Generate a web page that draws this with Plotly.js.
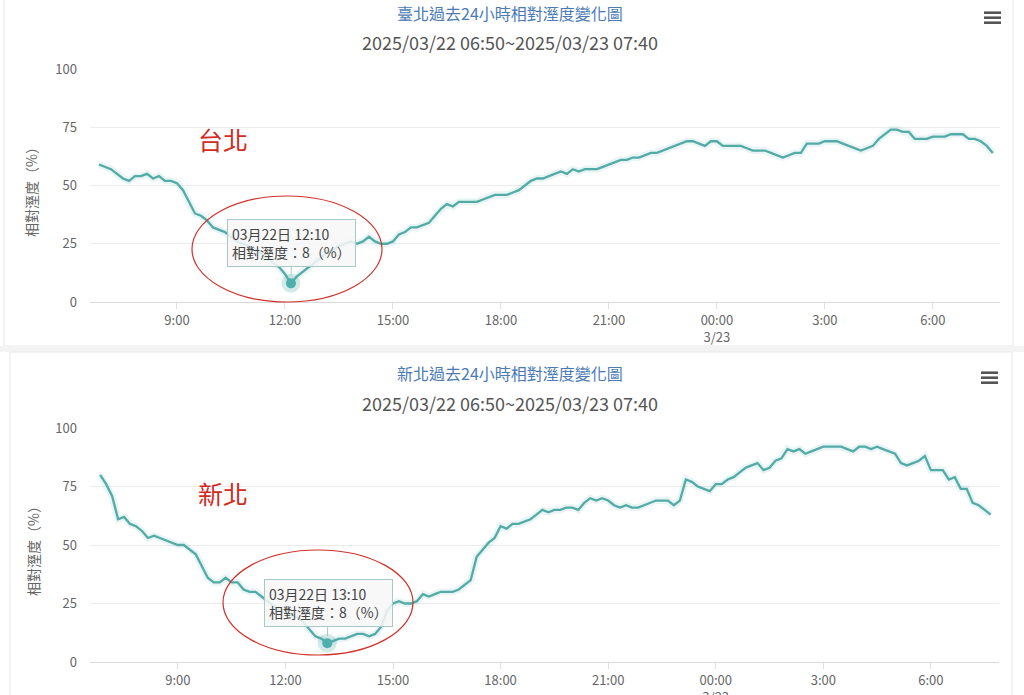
<!DOCTYPE html>
<html>
<head>
<meta charset="utf-8">
<script src="https://cdn.plot.ly/plotly-3.0.1.min.js"></script>
<style>
  html, body { margin: 0; padding: 0; background: #ffffff; }
  #chart { width: 1024px; height: 695px; }
</style>
</head>
<body>
<div id="chart"></div>
<script>
// ---------------- DATA ----------------
const startTime = Date.UTC(2025, 2, 22, 6, 50); // 2025-03-22 06:50
const stepMinutes = 10;

// 臺北 relative humidity (%), 10-minute readings 03/22 06:50 → 03/23 07:40
const taipeiRH = [
  59,
  58, 57, 55, 53, 52, 54,
  54, 55, 53, 54, 52, 52,
  51, 48, 43, 38, 37, 35,
  32, 31, 30, 28, 26, 25,
  24, 23, 21, 19, 17, 15,
  12, 8, 11, 13, 15, 17,
  19, 21, 22, 24, 25, 26,
  25, 26, 28, 26, 25, 25,
  26, 29, 30, 32, 32, 33,
  34, 37, 40, 42, 41, 43,
  43, 43, 43, 44, 45, 46,
  46, 46, 47, 48, 50, 52,
  53, 53, 54, 55, 56, 55,
  57, 56, 57, 57, 57, 58,
  59, 60, 61, 61, 62, 62,
  63, 64, 64, 65, 66, 67,
  68, 69, 69, 68, 67, 69,
  69, 67, 67, 67, 67, 66,
  65, 65, 65, 64, 63, 62,
  63, 64, 64, 68, 68, 68,
  69, 69, 69, 68, 67, 66,
  65, 66, 67, 70, 72, 74,
  74, 73, 73, 70, 70, 70,
  71, 71, 71, 72, 72, 72,
  70, 70, 69, 67, 64
];

// 新北 relative humidity (%)
const newTaipeiRH = [
  80,
  76, 71, 61, 62, 59, 58,
  56, 53, 54, 53, 52, 51,
  50, 50, 48, 46, 41, 36,
  34, 34, 36, 34, 34, 31,
  30, 30, 28, 26, 24, 22,
  21, 20, 19, 17, 14, 11,
  10, 8, 9, 10, 10, 11,
  12, 12, 11, 12, 15, 22,
  25, 26, 25, 25, 26, 29,
  28, 29, 30, 30, 30, 31,
  33, 35, 45, 48, 51, 53,
  58, 57, 59, 59, 60, 61,
  63, 65, 64, 65, 65, 66,
  66, 65, 68, 70, 69, 70,
  69, 67, 66, 67, 66, 66,
  67, 68, 69, 69, 69, 67,
  69, 78, 77, 75, 74, 73,
  76, 76, 78, 79, 81, 83,
  84, 85, 82, 83, 86, 87,
  91, 90, 91, 89, 90, 91,
  92, 92, 92, 92, 91, 90,
  92, 92, 91, 92, 91, 90,
  89, 85, 84, 85, 86, 88,
  82, 82, 82, 78, 79, 74,
  74, 68, 67, 65, 63
];

const xTickVals = [
  '2025-03-22 09:00', '2025-03-22 12:00', '2025-03-22 15:00', '2025-03-22 18:00',
  '2025-03-22 21:00', '2025-03-23 00:00', '2025-03-23 03:00', '2025-03-23 06:00'
];
const xTickText = ['9:00', '12:00', '15:00', '18:00', '21:00', '00:00<br>3/23', '3:00', '6:00'];
const yTickVals = [0, 25, 50, 75, 100];

const titleTop = '臺北過去24小時相對溼度變化圖';
const titleBottom = '新北過去24小時相對溼度變化圖';
const subtitleText = '2025/03/22 06:50~2025/03/23 07:40';
const yTitle = '相對溼度（%）';
const labelTop = '台北';
const labelBottom = '新北';
const tipTimeTop = '2025-03-22 12:10:00';
const tipTimeBottom = '2025-03-22 13:10:00';
const tipLabelTop = '03月22日 12:10';
const tipLabelBottom = '03月22日 13:10';
const tipSeriesName = '相對溼度';

// ---------------- BUILD ----------------
function fmt(ms) {
  return new Date(ms).toISOString().replace('T', ' ').slice(0, 19);
}
const times = taipeiRH.map((_, i) => fmt(startTime + i * stepMinutes * 60000));

const LINE = '#52aba7';
const FONT = '"Noto Sans CJK TC", "Noto Sans", sans-serif';

function series(vals, xa, ya) {
  return [
    { x: times, y: vals, xaxis: xa, yaxis: ya, type: 'scatter', mode: 'lines',
      line: { color: 'rgba(82,171,167,0.13)', width: 7 }, hoverinfo: 'skip' },
    { x: times, y: vals, xaxis: xa, yaxis: ya, type: 'scatter', mode: 'lines',
      line: { color: LINE, width: 2.3 }, hoverinfo: 'skip' }
  ];
}
function tipPoint(vals, tipTime, xa, ya) {
  const i = times.indexOf(tipTime);
  return [
    { x: [times[i]], y: [vals[i]], xaxis: xa, yaxis: ya, type: 'scatter', mode: 'markers',
      marker: { size: 19, color: 'rgba(82,171,167,0.25)' }, hoverinfo: 'skip', cliponaxis: false },
    { x: [times[i]], y: [vals[i]], xaxis: xa, yaxis: ya, type: 'scatter', mode: 'markers',
      marker: { size: 10, color: '#4db0ad' }, hoverinfo: 'skip', cliponaxis: false }
  ];
}

const traces = [].concat(
  series(taipeiRH, 'x', 'y'),
  series(newTaipeiRH, 'x2', 'y2'),
  tipPoint(taipeiRH, tipTimeTop, 'x', 'y'),
  tipPoint(newTaipeiRH, tipTimeBottom, 'x2', 'y2')
);

const W = 1024, H = 695;
const px = v => v / W;
const py = v => 1 - v / H;

function xaxisDef(domain, range, anchor) {
  return {
    type: 'date', domain: domain, range: range, anchor: anchor,
    tickmode: 'array', tickvals: xTickVals, ticktext: xTickText,
    ticks: 'outside', ticklen: 6, tickcolor: '#e0e0e0', tickwidth: 1,
    showgrid: false, showline: true, linecolor: '#dadada', linewidth: 1,
    zeroline: false, tickfont: { size: 13, color: '#666', family: FONT },
    fixedrange: true
  };
}
function yaxisDef(domain, anchor) {
  return {
    domain: domain, range: [0, 100], anchor: anchor,
    tickmode: 'array', tickvals: yTickVals,
    showgrid: true, gridcolor: '#ececec', gridwidth: 1,
    zeroline: false, showline: false, ticks: '',
    ticklabelstandoff: 12,
    tickfont: { size: 13, color: '#666', family: FONT },
    fixedrange: true
  };
}

function tip(xa, ya, vals, tipTime, label) {
  const i = times.indexOf(tipTime);
  return {
    xref: xa, yref: ya, x: times[i], y: vals[i],
    text: label + '<br>' + tipSeriesName + '：' + vals[i] + '（%）',
    showarrow: true, arrowhead: 0, arrowwidth: 1, arrowcolor: '#a8c9c7',
    ax: 1, ay: -40, standoff: 7,
    align: 'left', bgcolor: 'rgba(247,247,247,0.86)',
    bordercolor: '#a8c9c7', borderwidth: 1, borderpad: 4,
    font: { size: 14, color: '#444', family: FONT }
  };
}

function txt(x, y, text, size, color, angle) {
  return { xref: 'paper', yref: 'paper', x: px(x), y: py(y), text: text, showarrow: false,
    xanchor: 'center', yanchor: 'middle', textangle: angle || 0,
    font: { size: size, color: color, family: FONT } };
}

const annotations = [
  txt(510, 13, titleTop, 16, '#4a7bb4'),
  txt(510, 42, subtitleText, 18, '#555'),
  txt(510, 373, titleBottom, 16, '#4a7bb4'),
  txt(510, 403, subtitleText, 18, '#555'),
  txt(31, 189, yTitle, 14, '#666', -90),
  txt(33, 548, yTitle, 14, '#666', -90),
  txt(223, 139, labelTop, 25, '#d22b1f'),
  txt(223, 493, labelBottom, 25, '#d22b1f'),
  tip('x', 'y', taipeiRH, tipTimeTop, tipLabelTop),
  tip('x2', 'y2', newTaipeiRH, tipTimeBottom, tipLabelBottom)
];

function hamburger(x0, x1, ys) {
  return ys.map(y => ({ type: 'line', xref: 'paper', yref: 'paper',
    x0: px(x0), x1: px(x1), y0: py(y), y1: py(y), line: { color: '#555', width: 2.6 } }));
}

const shapes = [
  // panel frames and separator band
  { type: 'rect', xref: 'paper', yref: 'paper', x0: px(4), x1: px(1013), y0: py(346), y1: py(-2),
    line: { color: '#e8e8e8', width: 1 }, fillcolor: 'rgba(0,0,0,0)', layer: 'below' },
  { type: 'rect', xref: 'paper', yref: 'paper', x0: 0, x1: 1, y0: py(352), y1: py(346),
    line: { width: 0 }, fillcolor: '#f3f3f3', layer: 'below' },
  { type: 'rect', xref: 'paper', yref: 'paper', x0: px(10), x1: px(1012), y0: py(700), y1: py(352),
    line: { color: '#e8e8e8', width: 1 }, fillcolor: 'rgba(0,0,0,0)', layer: 'below' },
  // red highlight ellipses
  { type: 'circle', xref: 'paper', yref: 'paper', x0: px(192), x1: px(382), y0: py(302), y1: py(196),
    line: { color: '#d0302a', width: 1.2 } },
  { type: 'circle', xref: 'paper', yref: 'paper', x0: px(223), x1: px(413), y0: py(655), y1: py(550),
    line: { color: '#d0302a', width: 1.2 } }
].concat(hamburger(984, 1001, [12.7, 17.7, 22.7]), hamburger(981, 998, [372.7, 377.7, 382.7]));

const layout = {
  width: W, height: H,
  margin: { l: 0, r: 0, t: 0, b: 0 },
  paper_bgcolor: '#ffffff', plot_bgcolor: 'rgba(0,0,0,0)',
  showlegend: false, hovermode: false,
  font: { family: FONT },
  xaxis: xaxisDef([px(90), px(1000)], ['2025-03-22 06:35', '2025-03-23 07:52'], 'y'),
  yaxis: yaxisDef([py(302), py(69)], 'x'),
  xaxis2: xaxisDef([px(90), px(999)], ['2025-03-22 06:33', '2025-03-23 07:54'], 'y2'),
  yaxis2: yaxisDef([py(662), py(428)], 'x2'),
  annotations: annotations,
  shapes: shapes
};

Plotly.newPlot('chart', traces, layout, { displayModeBar: false, staticPlot: true });
</script>
</body>
</html>
